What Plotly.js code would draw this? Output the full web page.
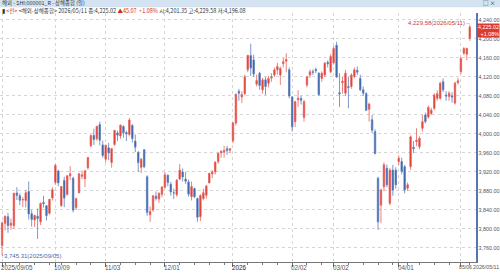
<!DOCTYPE html>
<html><head><meta charset="utf-8">
<script src="https://cdn.plot.ly/plotly-3.0.1.min.js"></script>
<style>html,body{margin:0;padding:0;background:#fff}#chart{width:500px;height:274px}</style>
</head><body><div id="chart"></div>
<script>
const dates = [
"2025/09/05","2025/09/08","2025/09/09","2025/09/10","2025/09/11","2025/09/12","2025/09/15","2025/09/16","2025/09/17","2025/09/18","2025/09/19","2025/09/22","2025/09/23","2025/09/24","2025/09/25","2025/09/26","2025/09/29","2025/09/30",
"2025/10/09","2025/10/10","2025/10/13","2025/10/14","2025/10/15","2025/10/16","2025/10/17","2025/10/20","2025/10/21","2025/10/22","2025/10/23","2025/10/24","2025/10/27","2025/10/28","2025/10/29","2025/10/30","2025/10/31",
"2025/11/03","2025/11/04","2025/11/05","2025/11/06","2025/11/07","2025/11/10","2025/11/11","2025/11/12","2025/11/13","2025/11/14","2025/11/17","2025/11/18","2025/11/19","2025/11/20","2025/11/21","2025/11/24","2025/11/25","2025/11/26","2025/11/27","2025/11/28",
"2025/12/01","2025/12/02","2025/12/03","2025/12/04","2025/12/05","2025/12/08","2025/12/09","2025/12/10","2025/12/11","2025/12/12","2025/12/15","2025/12/16","2025/12/17","2025/12/18","2025/12/19","2025/12/22","2025/12/23","2025/12/24","2025/12/25","2025/12/26","2025/12/29","2025/12/30","2025/12/31",
"2026/01/05","2026/01/06","2026/01/07","2026/01/08","2026/01/09","2026/01/12","2026/01/13","2026/01/14","2026/01/15","2026/01/16","2026/01/19","2026/01/20","2026/01/21","2026/01/22","2026/01/23","2026/01/26","2026/01/27","2026/01/28","2026/01/29","2026/01/30",
"2026/02/02","2026/02/03","2026/02/04","2026/02/05","2026/02/06","2026/02/09","2026/02/10","2026/02/11","2026/02/12","2026/02/13","2026/02/24","2026/02/25","2026/02/26","2026/02/27",
"2026/03/02","2026/03/03","2026/03/04","2026/03/05","2026/03/06","2026/03/09","2026/03/10","2026/03/11","2026/03/12","2026/03/13","2026/03/16","2026/03/17","2026/03/18","2026/03/19","2026/03/20","2026/03/23","2026/03/24","2026/03/25","2026/03/26","2026/03/27","2026/03/30","2026/03/31",
"2026/04/01","2026/04/02","2026/04/03","2026/04/07","2026/04/08","2026/04/09","2026/04/10","2026/04/13","2026/04/14","2026/04/15","2026/04/16","2026/04/17","2026/04/20","2026/04/21","2026/04/22","2026/04/23","2026/04/24","2026/04/27","2026/04/28","2026/04/29","2026/04/30",
"2026/05/06","2026/05/07","2026/05/08","2026/05/11"];

const openVals = [
3765,3812,3826,3808,3807,3876,3870,3861,3860,3879,3832,3819,3827,3815,3856,3849,3833,3865,
3898,3922,3849,3902,3873,3912,3907,3845,3876,3911,3906,3929,3975,3997,3990,4020,3977,
3947,3971,3940,3978,4002,3996,4016,4003,3999,4018,3985,3961,3930,3967,3910,3830,3840,3869,3863,3873,
3888,3913,3894,3876,3872,3905,3920,3905,3899,3868,3885,3864,3826,3864,3871,3897,3916,3920,3942,3960,3962,3969,3966,
3986,4023,4090,4078,4085,4135,4165,4156,4105,4128,4093,4114,4107,4118,4124,4135,4124,4148,4153,4135,
4078,4026,4072,4075,4035,4103,4124,4131,4136,4128,4117,4124,4151,4131,
4150,4187,4087,4108,4086,4100,4100,4121,4134,4117,4093,4085,4052,4030,4005,3907,3850,3889,3928,3854,3924,3924,
3942,3942,3931,3886,3931,3972,3984,3973,4012,4040,4036,4043,4054,4075,4075,4110,4082,4079,4080,4065,4108,
4131,4170,4168,4201.35];

const highVals = [
3816,3828,3834,3822,3876,3888,3875,3867,3882,3900,3840,3830,3843,3856,3870,3850,3863,3888,
3937,3925,3890,3910,3913,3932,3910,3866,3917,3923,3924,3952,3999,4011,4017,4026,3986,
3977,3981,3970,4008,4007,4020,4018,4007,4034,4021,3999,3964,3950,3968,3913,3847,3871,3879,3877,3890,
3920,3915,3899,3885,3905,3937,3927,3920,3904,3900,3887,3866,3873,3885,3893,3918,3924,3942,3960,3966,3975,3975,3970,
4024,4085,4095,4090,4125,4167,4190,4167,4125,4131,4118,4120,4122,4128,4140,4150,4142,4160,4170,4140,
4080,4070,4092,4080,4072,4123,4136,4136,4140,4130,4132,4152,4155,4168,
4185,4194,4128,4120,4135,4120,4128,4140,4142,4125,4100,4088,4066,4040,4010,3910,3885,3940,3936,3928,3935,3930,
3955,3950,3935,3898,3997,3985,4012,3995,4040,4045,4060,4055,4086,4092,4110,4117,4090,4090,4088,4110,4118,
4162,4183,4182,4229.58];

const lowVals = [
3745.31,3797,3792,3798,3800,3861,3850,3846,3845,3820,3805,3804,3779,3808,3845,3818,3830,3860,
3893,3890,3847,3846,3870,3903,3835,3840,3876,3905,3888,3925,3972,3977,3986,3976,3950,
3940,3945,3929,3975,3985,3990,3992,3985,3995,3982,3962,3920,3918,3928,3828,3815,3836,3860,3855,3867,
3885,3890,3870,3863,3868,3903,3900,3895,3868,3860,3865,3815,3817,3860,3864,3896,3907,3915,3937,3950,3950,3956,3960,
3981,4018,4070,4065,4082,4130,4122,4120,4100,4093,4085,4082,4098,4110,4120,4125,4103,4140,4130,4075,
4005,4015,4057,4062,4026,4098,4118,4124,4128,4080,4110,4120,4140,4128,
4146,4118,4057,4085,4080,4054,4095,4117,4124,4090,4080,4048,4026,4002,3957,3798,3812,3880,3888,3850,3870,3885,
3935,3915,3875,3880,3925,3960,3975,3968,4005,4022,4032,4040,4050,4070,4072,4088,4070,4070,4066,4062,4104,
4126,4166,4155,4196.08];

const closeVals = [
3812.51,3826.84,3807.29,3812.22,3875.31,3870.60,3860.50,3861.87,3876.34,3831.66,3820.09,3828.58,3821.83,3853.64,3853.30,3828.11,3862.53,3882.78,
3933.97,3897.03,3889.50,3865.23,3912.21,3916.23,3839.76,3863.89,3916.33,3913.76,3922.41,3950.31,3996.94,3988.22,4016.33,3986.90,3954.79,
3976.52,3960.19,3969.25,4007.76,3997.56,4018.60,4002.76,4000.14,4029.50,3990.49,3972.03,3939.81,3946.74,3931.05,3834.89,3836.77,3870.02,3864.18,3875.26,3888.60,
3914.01,3897.71,3878.00,3875.79,3902.81,3924.08,3909.52,3900.50,3873.32,3889.35,3867.92,3824.81,3870.28,3876.37,3890.45,3917.36,3919.98,3940.95,3959.62,3963.68,3965.28,3965.12,3968.84,
4023.42,4083.67,4085.77,4082.98,4120.43,4165.29,4138.76,4126.09,4112.60,4101.91,4114,4100,4117,4120,4135,4142,4138,4152,4157,4080,
4015,4068,4075,4071,4068,4120,4131,4130,4133,4083,4128,4149,4148,4163,
4180,4120,4084,4111,4128,4098,4124,4135,4130,4093,4086,4050,4063,4008,3959,3815,3882,3935,3893,3924,3882,3893,
3949,3921,3882,3893,3994,3969,3987,3991,4026,4026,4056,4050,4082,4085,4107,4093,4080,4086,4078,4107,4112,
4159,4180,4179.95,4225.02];

const tickDates = ["2025/09/05","2025/10/09","2025/11/03","2025/12/01","2026/01/05","2026/02/02","2026/03/02","2026/04/01","2026/05/06"];
const tickLabels = ["2025/09/05","10/09","11/03","12/01","2026","02/02","03/02","04/01","05/06"];

const RED = '#e0322a', BLUE = '#2f5aa6';
const RED_LINE = '#e6625a', BLUE_LINE = '#5d7fbb';
const FONT = 'Liberation Sans, Arial, Noto Sans CJK KR, sans-serif';
const KFONT = 'Noto Sans CJK KR, Liberation Sans, sans-serif';

const W = 500, H = 274, MT = 13, MB = 12, MR = 24;
const PH = H - MT - MB, PW = W - MR;
const py = p => 1 + (MT - p) / PH;   // pixel row -> paper y (header area)
const pxRight = 1 + MR / PW;          // right edge of the picture in paper x

const xs = dates.map((d, i) => i);
const n = dates.length;
const tickIdx = tickDates.map(d => dates.indexOf(d));
const weekIdx = [];
for (let i = 1; i < n; i++) {
  const a = new Date(dates[i - 1]), b = new Date(dates[i]);
  if (b.getDay() <= a.getDay() || (b - a) > 6 * 864e5) weekIdx.push(i);
}
const minorIdx = weekIdx.filter(i => tickIdx.indexOf(i) < 0);

const last = n - 1;
const lastClose = closeVals[last], prevClose = closeVals[last - 1];
const chg = lastClose - prevClose, pct = chg / prevClose * 100;
const fmt = v => v.toLocaleString('en-US', {minimumFractionDigits: 2, maximumFractionDigits: 2});
let maxI = 0, minI = 0;
highVals.forEach((v, i) => { if (v > highVals[maxI]) maxI = i; });
lowVals.forEach((v, i) => { if (v < lowVals[minI]) minI = i; });

const trace = {
  type: 'candlestick', x: xs, open: openVals, high: highVals, low: lowVals, close: closeVals,
  increasing: {line: {color: RED_LINE, width: 0.8}, fillcolor: RED},
  decreasing: {line: {color: BLUE_LINE, width: 0.8}, fillcolor: BLUE},
  whiskerwidth: 0, hoverinfo: 'skip'
};

const annotations = [];
tickIdx.forEach((ix, k) => {
  const isLast = k === tickIdx.length - 1;
  annotations.push({
    xref: 'x', yref: 'paper', x: ix, y: 0, xanchor: 'left', yanchor: 'top', yshift: -1, xshift: isLast ? -3 : -2,
    text: tickLabels[k], showarrow: false, borderpad: 0,
    font: {family: FONT, size: isLast ? 5.2 : 6.3, color: k === 4 ? '#222' : '#555'}
  });
});
annotations.push({xref: 'paper', yref: 'paper', x: pxRight, y: 0, xanchor: 'right', yanchor: 'top', yshift: -1,
  text: dates[last], showarrow: false, borderpad: 0, font: {family: FONT, size: 5.3, color: '#555'}});
// high / low markers
annotations.push({xref: 'x', yref: 'y', x: maxI, y: highVals[maxI], xanchor: 'right', yanchor: 'middle', xshift: 2, yshift: 2,
  text: fmt(highVals[maxI]) + '(' + dates[maxI] + ')→', showarrow: false, borderpad: 0, font: {family: FONT, size: 6, color: '#c8413a'}});
annotations.push({xref: 'x', yref: 'y', x: minI, y: lowVals[minI], xanchor: 'left', yanchor: 'middle', xshift: -2, yshift: -1,
  text: '↑' + fmt(lowVals[minI]) + '(' + dates[minI] + ')', showarrow: false, borderpad: 0, font: {family: FONT, size: 6, color: '#4b6aa8'}});
// current price box
annotations.push({xref: 'paper', yref: 'y', x: pxRight, y: lastClose, xanchor: 'right', yanchor: 'middle', yshift: -3,
  text: fmt(lastClose) + '<br>+' + pct.toFixed(2) + '%', showarrow: false, align: 'right',
  bgcolor: '#e0392e', borderpad: 0, font: {family: FONT, size: 5.4, color: '#fff'}});
// header rows
annotations.push({xref: 'paper', yref: 'paper', x: 0.002, y: py(3.5), xanchor: 'left', yanchor: 'middle', borderpad: 0,
  text: '해외 - SHI:000001_R - 상해종합 (일)', showarrow: false, font: {family: KFONT, size: 5.4, color: '#333'}});
annotations.push({xref: 'paper', yref: 'paper', x: pxRight - 4 / PW, y: py(3.5), xanchor: 'right', yanchor: 'middle', borderpad: 0,
  text: '□ ×', showarrow: false, font: {family: KFONT, size: 5.6, color: '#333'}});
annotations.push({xref: 'paper', yref: 'paper', x: 0.002, y: py(11), xanchor: 'left', yanchor: 'middle', borderpad: 0,
  text: '▮ <span style="color:#d02a20">&lt;전&gt;</span> &lt;해외-상해종합&gt; ' + dates[last] + ' 종:' + fmt(lastClose) +
        ' <span style="color:#d02a20">▲' + chg.toFixed(2) + '  +' + pct.toFixed(2) + '%</span> 시:' + fmt(openVals[last]) +
        ' 고:' + fmt(highVals[last]) + ' 저:' + fmt(lowVals[last]),
  showarrow: false, font: {family: KFONT, size: 5.5, color: '#333'}});

const layout = {
  width: W, height: H,
  margin: {l: 0, r: MR, t: MT, b: MB, pad: 0},
  paper_bgcolor: '#ffffff', plot_bgcolor: '#ffffff',
  showlegend: false,
  xaxis: {
    type: 'linear', range: [-0.7, 160.1], rangeslider: {visible: false},
    tickmode: 'array', tickvals: tickIdx, ticktext: tickIdx.map(() => ''),
    ticks: 'outside', ticklen: 4, tickcolor: '#666', tickwidth: 1,
    showgrid: true, gridcolor: '#d6d6d6', griddash: 'dot', gridwidth: 1,
    showline: true, linecolor: '#777', linewidth: 1, zeroline: false,
    minor: {tickmode: 'array', tickvals: minorIdx, ticks: 'outside', ticklen: 2, tickcolor: '#777', showgrid: false},
    fixedrange: true
  },
  yaxis: {
    side: 'right', range: [3730.5, 4254.7], tickmode: 'linear', tick0: 3760, dtick: 40,
    tickformat: ',.2f', tickfont: {family: FONT, size: 5.4, color: '#555'}, ticklabelstandoff: 0,
    ticks: '', showgrid: true, gridcolor: '#d6d6d6', griddash: 'dot', gridwidth: 1,
    showline: true, linecolor: '#5576ae', linewidth: 1.5, zeroline: false, fixedrange: true
  },
  shapes: [
    {type: 'rect', xref: 'paper', yref: 'paper', x0: 0, x1: pxRight, y0: py(7.2), y1: py(0),
     fillcolor: '#d3e3f1', line: {width: 0}, layer: 'above'}
  ],
  annotations: annotations
};

Plotly.newPlot('chart', [trace], layout, {displayModeBar: false, staticPlot: true});
</script>
</body></html>
